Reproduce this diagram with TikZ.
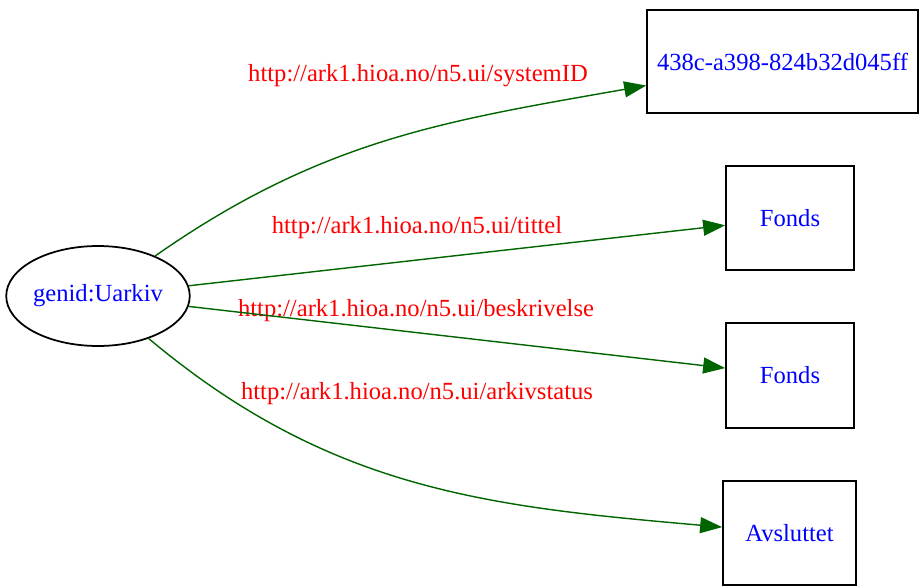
\documentclass[tikz,border=0pt]{standalone}
\usepackage{fontspec}
\setmainfont{Liberation Serif}
\usetikzlibrary{arrows.meta,shapes.geometric}
\definecolor{edgegreen}{RGB}{0,100,0}

\begin{document}
\begin{tikzpicture}[x=0.02cm,y=0.02cm,
	res/.style={draw,line width=1pt,text=blue,font=\fontsize{14}{16}\selectfont,inner sep=0pt},
	lbl/.style={text=red,font=\fontsize{14}{16}\selectfont,inner sep=0pt},
	rel/.style={draw=edgegreen,line width=0.8pt,-{Triangle[length=0.44cm,width=0.32cm]}}]
	\useasboundingbox (0,0) rectangle (923,586);

	\node[res,ellipse,minimum width=3.6cm,minimum height=2cm] (uarkiv) at (98,290) {genid:Uarkiv};
	\node[res,rectangle,minimum width=5.42cm,minimum height=2.06cm] (sysid) at (782.5,524.5) {438c-a398-824b32d045ff};
	\node[res,rectangle,minimum width=2.56cm,minimum height=2.08cm] (tittel) at (790,368) {Fonds};
	\node[res,rectangle,minimum width=2.56cm,minimum height=2.1cm] (beskr) at (790,210.5) {Fonds};
	\node[res,rectangle,minimum width=2.66cm,minimum height=2.08cm] (status) at (789.5,53) {Avsluttet};

	\node[lbl] (l1) at (418,510) {http://ark1.hioa.no/n5.ui/systemID};
	\node[lbl] (l2) at (417,358) {http://ark1.hioa.no/n5.ui/tittel};
	\node[lbl] (l3) at (416,275) {http://ark1.hioa.no/n5.ui/beskrivelse};
	\node[lbl] (l4) at (417,192) {http://ark1.hioa.no/n5.ui/arkivstatus};

	\draw[rel] (uarkiv) to[out=35,in=190] (sysid);
	\draw[rel] (uarkiv) -- (tittel);
	\draw[rel] (uarkiv) -- (beskr);
	\draw[rel] (uarkiv) to[out=-40,in=175] (status);
\end{tikzpicture}
\end{document}
